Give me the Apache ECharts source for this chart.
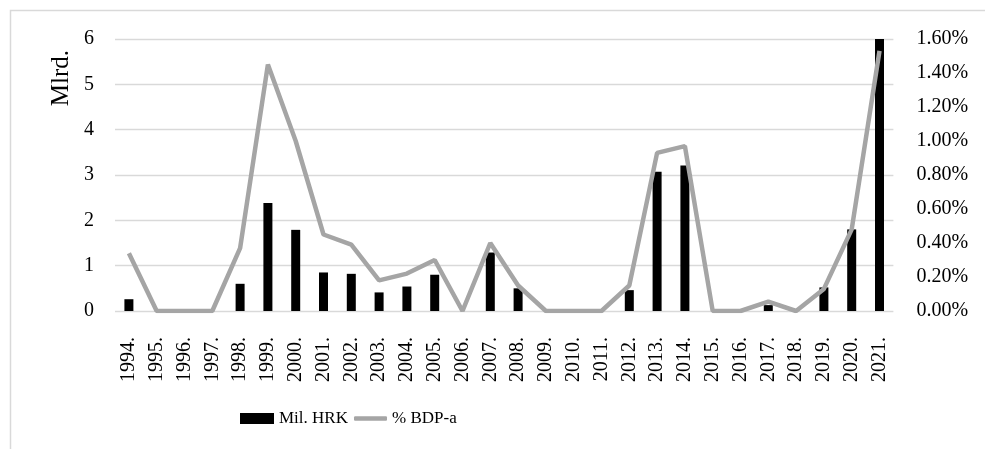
<!DOCTYPE html>
<html>
<head>
<meta charset="utf-8">
<script src="https://cdn.jsdelivr.net/npm/echarts@6/dist/echarts.min.js"></script>
<style>
html,body{margin:0;padding:0;background:#fff;}
#chart{width:985px;height:449px;}
</style>
</head>
<body>
<div id="chart"></div>
<script>
const years = ['1994.','1995.','1996.','1997.','1998.','1999.','2000.','2001.','2002.','2003.','2004.','2005.','2006.','2007.','2008.','2009.','2010.','2011.','2012.','2013.','2014.','2015.','2016.','2017.','2018.','2019.','2020.','2021.'];
const milHRK = [0.26,0,0,0,0.6,2.38,1.79,0.85,0.82,0.41,0.54,0.80,0,1.29,0.50,0,0,0,0.46,3.07,3.21,0,0,0.13,0,0.52,1.80,6.0];
const pctBDP = [0.34,0,0,0,0.37,1.45,1.0,0.45,0.39,0.18,0.22,0.30,0,0.40,0.15,0,0,0,0.15,0.93,0.97,0,0,0.055,0,0.13,0.48,1.53];
const seriesNames = ['Mil. HRK','% BDP-a'];
const leftAxisName = 'Mlrd.';

const FONT = 'Liberation Serif';
const chart = echarts.init(document.getElementById('chart'));
chart.setOption({
  animation: false,
  backgroundColor: '#fff',
  graphic: [
    {type:'rect', shape:{x:10.5,y:10.5,width:1000,height:500}, style:{fill:'none',stroke:'#d9d9d9',lineWidth:1.5}, silent:true},
    {type:'text', x:61, y:78, rotation:Math.PI/2, style:{text:leftAxisName, font:'25px "Liberation Serif"', fill:'#000', align:'center', verticalAlign:'middle'}}
  ],
  grid: {left:115, right:91.6, top:39, bottom:138, containLabel:false},
  legend: [
    {
      left:240, top:410, padding:0, itemWidth:34, itemHeight:11, itemGap:16,
      textStyle:{fontFamily:FONT, fontSize:17, color:'#000'},
      data:[{name:seriesNames[0], icon:'rect'}]
    },
    {
      left:354, top:410, padding:0, itemWidth:33, itemHeight:4.5, itemGap:16,
      textStyle:{fontFamily:FONT, fontSize:17, color:'#000'},
      data:[{name:seriesNames[1], icon:'roundRect'}]
    }
  ],
  xAxis: {
    type:'category', data:years, boundaryGap:true,
    axisLine:{show:false}, axisTick:{show:false},
    axisLabel:{rotate:90, interval:0, margin:26, fontFamily:FONT, fontSize:20, color:'#000'}
  },
  yAxis: [
    {type:'value', min:0, max:6, interval:1,
     axisLine:{show:false}, axisTick:{show:false},
     splitLine:{lineStyle:{color:'#d9d9d9', width:1.3}},
     axisLabel:{margin:21, fontFamily:FONT, fontSize:20, color:'#000'}},
    {type:'value', min:0, max:1.6, interval:0.2, position:'right',
     axisLine:{show:false}, axisTick:{show:false}, splitLine:{show:false},
     axisLabel:{margin:23, fontFamily:FONT, fontSize:20, color:'#000', formatter:v=>v.toFixed(2)+'%'}}
  ],
  series: [
    {name:seriesNames[0], type:'bar', yAxisIndex:0, data:milHRK, barWidth:9, itemStyle:{color:'#000'}},
    {name:seriesNames[1], type:'line', yAxisIndex:1, data:pctBDP, symbol:'none', lineStyle:{color:'#a5a5a5', width:4.5}, itemStyle:{color:'#a5a5a5'}}
  ]
});
</script>
</body>
</html>
